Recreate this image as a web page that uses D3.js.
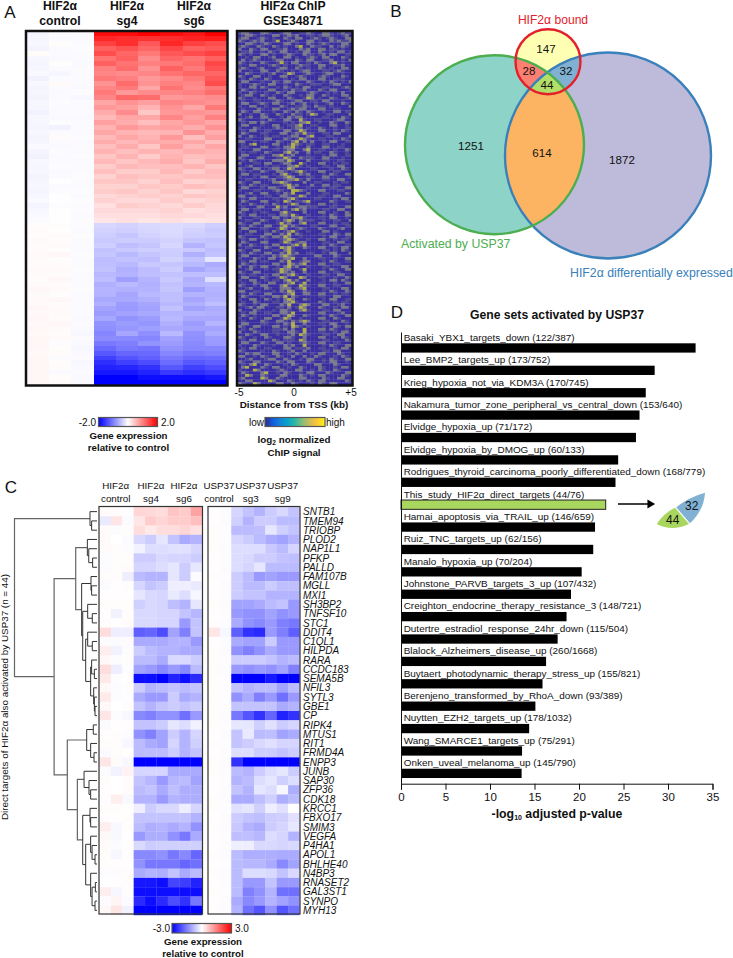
<!DOCTYPE html>
<html><head><meta charset="utf-8">
<script src="https://cdn.jsdelivr.net/npm/d3@7/dist/d3.min.js"></script>
<style>
html,body{margin:0;padding:0;background:#fff}
svg{display:block}
text{font-family:"Liberation Sans",Arial,sans-serif;fill:#111}
</style></head><body><div id="chart"></div>
<script>
// ---------- Panel A: expression, one row per gene group (hundredths of log2 ratio)
const panelAColumns = ["c1","c2","c3","sg4a","sg4b","sg4c","sg6a","sg6b","sg6c"];
const panelARows = [
[-8,-3,-4,190,190,195,190,185,195],
[-7,-4,-3,170,165,160,165,175,180],
[-6,2,-3,150,165,130,170,150,140],
[-9,-4,-2,125,135,120,145,125,130],
[3,-3,-4,140,120,105,130,140,150],
[-6,-5,-3,110,125,90,120,110,125],
[-8,2,-5,125,110,100,105,115,145],
[-7,-4,-3,100,115,85,125,105,135],
[-5,-7,-3,95,90,95,110,120,120],
[-10,-3,-4,105,100,80,90,105,130],
[-6,4,-3,85,115,85,100,95,140],
[-8,-3,-5,95,105,70,110,90,105],
[-7,-5,-2,105,80,90,95,100,115],
[-9,-4,-6,95,120,115,80,85,90],
[-6,-2,-3,70,85,75,95,90,85],
[-7,-4,-4,80,75,60,85,70,105],
[-10,-3,-3,65,90,45,80,85,80],
[-6,-5,-5,55,70,70,95,75,100],
[-7,-2,-3,75,65,50,70,80,70],
[-8,-10,-4,60,80,70,75,65,85],
[-6,-4,-3,70,60,55,60,85,65],
[-9,3,-2,55,70,60,80,50,75],
[-7,-3,-5,65,55,65,65,70,50],
[-5,-5,-3,50,65,45,75,55,70],
[-8,-2,-3,60,50,60,55,65,60],
[-10,-4,-2,45,60,40,60,50,55],
[-6,-3,-4,55,45,55,65,45,65],
[-7,-2,-3,40,55,50,50,60,45],
[-6,-5,-3,50,40,40,55,40,55],
[-9,-3,-2,35,50,45,45,50,50],
[-7,-1,-3,45,45,35,50,35,40],
[-6,-3,-4,35,35,45,40,50,45],
[-8,-2,-2,40,45,35,45,30,35],
[-6,-1,-3,30,35,40,35,45,40],
[-5,1,-2,35,30,30,40,30,35],
[-9,-2,-3,25,40,35,30,40,30],
[-6,-1,-2,30,30,30,35,25,30],
[-5,1,-3,25,25,25,30,30,25],
[-3,1,-2,20,25,20,25,20,22],
[2,2,-2,-32,-35,-30,-28,-30,-38],
[3,1,-3,-35,-38,-32,-28,-35,-42],
[2,3,-2,-38,-45,-35,-30,-38,-40],
[4,2,-3,-42,-40,-40,-35,-45,-48],
[3,4,-4,-38,-50,-45,-32,-60,-45],
[3,2,-3,-48,-42,-38,-38,-42,-52],
[5,6,-2,-45,-55,-45,-40,-62,-48],
[4,2,-3,-52,-48,-50,-35,-48,-20],
[3,3,-4,-50,-55,-42,-45,-55,-65],
[5,5,-2,-48,-62,-52,-40,-70,-58],
[4,3,-3,-55,-60,-50,-48,-50,-52],
[3,6,-4,-52,-75,-58,-42,-62,-25],
[5,3,-3,-62,-55,-62,-48,-58,-55],
[6,5,-2,-58,-62,-60,-45,-75,-60],
[4,2,-5,-60,-70,-55,-50,-60,-62],
[5,6,-3,-68,-68,-62,-50,-70,-58],
[4,3,-4,-62,-78,-70,-55,-62,-50],
[6,5,-3,-72,-80,-72,-48,-72,-65],
[5,4,-4,-78,-72,-68,-58,-60,-62],
[6,3,-5,-70,-85,-78,-55,-68,-68],
[5,6,-4,-85,-78,-82,-62,-78,-58],
[7,4,-5,-88,-82,-75,-68,-72,-72],
[5,3,-6,-95,-70,-88,-55,-85,-65],
[6,5,-4,-90,-92,-95,-72,-88,-78],
[7,-2,-5,-105,-100,-85,-78,-92,-80],
[6,2,-6,-118,-105,-110,-85,-95,-95],
[5,3,-5,-130,-120,-118,-95,-105,-100],
[7,-4,-4,-150,-135,-125,-105,-118,-115],
[6,2,-6,-165,-150,-140,-115,-130,-125],
[7,3,-5,-175,-170,-160,-130,-150,-140],
[6,-3,-4,-180,-180,-175,-155,-165,-155],
[7,2,-5,-195,-195,-190,-190,-190,-185],
[6,3,-5,-200,-200,-200,-200,-200,-200]
];
const panelATitles = [["HIF2α","control"],["HIF2α","sg4"],["HIF2α","sg6"]];

// ---------- Panel A: ChIP signal level (0 low - 4 high), one digit per bin, estimated texture
const chipRows = [
"122100221001220011210022101211","012210100220121200110122100120","122001210100210220012101210022","210121200130012100220100212112",
"002210121000220100210121000220","121002100210100230021100201210","200210220011200021200220110100","011200102102200102200210102201",
"210100220100121002110120220011","001022001200220100121022000210","020121000122000210220011200102","210100210013102200102100230100",
"100220001210100121100220011200","121001200012200210100210100220",
"200100220021001012200011012100","002100101200132001210012200100","210022001002200121000121000210","010210021000101022000220011100",
"022000100210220100210010210102","100121002200100210011100122000","100220210010210102200011000121","021010002200102112000210220001",
"100210010021022000121001010200","012200210100210010220021000220","210010002200021001320100210012","010011000121001220011022000100",
"022001210220012012001001200210","100220010002100112102110100002","010002100220012122000220011000","021022000100210210210010022011",
"200100210021002110132001100002","001200220001021220000011000210","210000102100220031001100012200","010220210000101022300100210021",
"022000100220011230011000220010","100021000121001220100210010011",
"010220011000220132000220010210","021000110002201213110011022000","200210010110012200230001100002","001100022000210132100110010210",
"220010110021002302020010220011","010230000220013210110011000100","011000220010223100200022001100","100022000110122002300110010021",
"010110021000231200201100210010","022000100223012000100010220011","210002200011320021110022000100","010210000222132000200011001100",
"200011022001220031000220010110","001200010110022310100011002200",
"210022001220132000011000100210","010100210022101231000220011000","022011000102310021200010210022","100010220011232000110022000001",
"001100001200122310200011002200","210022000223210002001100010110","010210110001231200020022011000","022000102210032000100010110022",
"100011000121003321000220001100","001200220010213000200011000021",
"220010011002210132000110022000","010220000110123100001100010220","021000220010320112300000210011","100210010210013200100220010000",
"010002200031200122111000110022","022011000220102312000011002200","210010110002310002000220010021","010220001102213100100010210022",
"200011000220102231000110220010","001100210010232021110010011002",
"210022000013120023000220010110","010210022002312100011000220011","022000110013200121000210001200","100220010210123100100022010000",
"001100022002130210000110021022","210000210221320010000010220011","010220010001232100100220010110","021000220001320122000011002200",
"200210010220012313000010210011","001100021003231002100220010220",
"210022000110231000000011010210","010210022002131200110010220002","022000100212321000002200021000","100021002201223002000110010022",
"010220110002130012200010210011","021010000220032123000220011000","200210220010231200100011000220","001200010113220013000010210022",
"210022000013212002000220011000","010110010220123100100011002200",
"022000210013200032000110010021","100220010110231200200010220210","010021002200123013000110010022","210010220002310032100220011000",
"001200021002220123000011000220","220011000102132002100010210021","010210022000123002200220010110","021000100221302100000110022000",
"100220021010232002100010220011","010021000110223100000210010110",
"210010220002130023200022001200","001202200011020132000210010220","200021000102210023100011022000","010220011002213000000220001200",
"021010000220132002100010210022","100210022001320010000220021000","010000210022102123200011000210","022000110010213002000110220010",
"210022000220103210100010021022","010210000111202003000220210010",
"200021000110022103000110010220","002100220010012032100011002200","210010021000221002000220010210","010220000210111032000011000021",
"022000210022010012100220011000","100021000100212003000010210022","010220011000220111200110010220","210000100210012002000011022000",
"002122000220010210010220002100","220010210021002002002100010210",
"001200012200210010220010210022","210022000021022000210010220010","010230021000102100002200021000","023000210220010021000210010220",
"100032000012100220010210021000","021000230010210010220002100022","003200210002200021010220000210","120000320021000022000021002200",
"002200003200021010210220000021","210032000022002100010210220000"
];

// ---------- Panel B: Venn counts
const vennSets = ["Activated by USP37","HIF2α differentially expressed","HIF2α bound"];
const vennCounts = [1251,1872,147,614,28,32,44];

// ---------- Panel C
const panelCColumnsLeft = ["c1","c2","c3","sg4a","sg4b","sg4c","sg6a","sg6b","sg6c"];
const panelCColumnsRight = ["c1","c2","sg3a","sg3b","sg3c","sg9a","sg9b","sg9c"];
const panelCTitles = [["HIF2α","control"],["HIF2α","sg4"],["HIF2α","sg6"],["USP37","control"],["USP37","sg3"],["USP37","sg9"]];
const genes = ["SNTB1","TMEM94","TRIOBP","PLOD2","NAP1L1","PFKP","PALLD","FAM107B","MGLL","MXI1","SH3BP2","TNFSF10","STC1","DDIT4","C1QL1","HILPDA","RARA","CCDC183","SEMA5B","NFIL3","SYTL3","GBE1","CP","RIPK4","MTUS1","RIT1","FRMD4A","ENPP3","JUNB","SAP30","ZFP36","CDK18","KRCC1","FBXO17","SMIM3","VEGFA","P4HA1","APOL1","BHLHE40","N4BP3","RNASET2","GAL3ST1","SYNPO","MYH13"];
const panelCLeft = [
[.05,.05,-.02,.5,.45,.4,.7,.6,1.1],[-.25,.3,-.05,.3,.6,.5,.6,.6,.75],[.05,-.03,.03,.4,.25,.4,.4,.5,.35],
[.05,0,-.05,-.45,-.6,-.3,-.7,-1,-.9],[.05,.03,-.03,-.15,-.4,-.4,-.35,-.35,-.5],[-.03,.03,.03,-.6,-.6,-.45,-.5,-.5,-.6],
[-.03,.03,.05,-.5,-.5,-.4,-.3,-.6,-.3],[.03,.03,-.2,-.8,-.9,-.9,-.3,-.6,-.05],[-.05,.02,.03,-.5,-.7,-.6,-.2,-.2,-.25],
[.02,.02,.02,-.3,-.45,-.5,-.25,-.4,-.1],[.03,.03,.03,-.55,-.45,-.5,-.75,-.9,-.3],[.02,-.15,.03,-.45,-.45,-.5,-.5,-.7,-.85],
[.03,.02,.05,-.45,-.45,-.5,-.5,-1.2,-.7],[.4,-.2,-.2,-1.9,-1.8,-2.1,-1.1,-1.5,-.7],[-.03,-.05,.05,-1,-1,-1,-.9,-.9,-1.2],
[.2,-.15,-.03,-.6,-.8,-.9,-.9,-1,-1],[.08,-.03,.03,-.8,-.8,-1,-.45,-.45,-.6],[.4,-.2,-.02,-1.1,-1.2,-1.4,-1.2,-1.4,-.8],
[.25,-.02,.02,-2.9,-2.9,-3,-2.6,-2.8,-2.5],[.08,-.03,.03,-.6,-.9,-.8,-.7,-.8,-.7],[.25,-.03,-.02,-1,-1.2,-1.2,-.6,-1,-.9],
[.08,0,.03,-.7,-.9,-.7,-.6,-.7,-.6],[.3,-.03,-.1,-1.4,-1.5,-1.3,-1.3,-1.7,-1.2],[-.05,.02,.02,-.7,-.7,-.6,-.3,-.4,-.15],
[.02,.04,-.03,-1.3,-1.5,-1.1,-.6,-.9,-.5],[.03,.03,-.1,-.8,-1,-1.1,-.5,-.9,-.55],[-.05,.03,.02,-.8,-.8,-.8,-.6,-.9,-.7],
[.3,.05,-.1,-3,-3,-3,-3,-3,-3],[-.03,-.15,.15,-.5,-.5,-.5,-1,-1,-1],[.04,0,.05,-.7,-.85,-1.2,-.85,-.8,-1.1],
[.02,0,.05,-.8,-.7,-1,-.75,-.95,-.95],[-.02,.2,-.08,-.9,-.9,-1.2,-.9,-.95,-.95],[.03,.03,.02,-.2,-.6,-.45,-.45,-.2,-.5],
[.02,.02,.03,-.7,-.7,-.7,-.7,-.7,-.9],[.2,-.08,.03,-.8,-.95,-.9,-1,-.9,-1.3],[.08,-.08,.02,-1.2,-.95,-.95,-1.3,-1.6,-1],
[.05,-.03,.03,-.45,-.6,-.55,-.55,-.55,-.55],[.03,-.1,.02,-1.4,-1.4,-1.3,-1.6,-1.4,-1.8],[.03,.02,.02,-1.3,-1.6,-1.6,-1.6,-1.8,-1.7],
[-.02,-.02,.03,-1,-.9,-.95,-.7,-1,-.8],[.02,.02,.03,-2.7,-2.7,-2.9,-2.2,-2.3,-2.6],[.2,-.1,.03,-2.9,-2.9,-2.9,-2.9,-2.8,-2.9],
[-.04,.12,-.05,-2.5,-2.8,-2.5,-2.1,-2.4,-1.6],[.08,.3,-.15,-3,-3,-3,-3,-3,-3]
];
const panelCRight = [
[.02,-.03,-.5,-.7,-.9,-.6,-.45,-.7],[.02,-.03,-.55,-.9,-.6,-.6,-.8,-.8],[.03,-.02,-.8,-.8,-.75,-.3,-.55,-.7],
[.03,-.02,-.5,-.6,-.8,-1,-1.1,-.9],[.03,-.03,-.4,-.4,-.4,-.65,-.8,-.5],[.02,-.03,-.4,-.45,-.6,-.6,-.7,-.75],
[.02,-.03,-.4,-.5,-.3,-.8,-.8,-.8],[.03,-.02,-.6,-.8,-1.2,-1.1,-1.2,-1.2],[.02,-.03,-.6,-.8,-.8,-.6,-.75,-.75],
[.02,-.03,-.6,-.7,-.7,-.9,-.9,-.9],[.03,-.03,-1.1,-1.1,-1,-.8,-.7,-1.2],[.02,-.02,-1.2,-1.3,-1.3,-1.1,-1.3,-1.2],
[.03,-.03,-1,-1.3,-1.4,-1.2,-1.5,-1.6],[.3,-.1,-1.9,-2.4,-2.5,-1.2,-1.5,-1.9],[.02,-.03,-1,-1.1,-1.1,-.6,-1.2,-1.2],
[.03,-.03,-1.3,-1.5,-1.3,-1,-1.2,-1.2],[.03,-.02,-.6,-.6,-.6,-.7,-.9,-.8],[.05,-.03,-1.2,-1.3,-1.2,-1.3,-1.1,-1.5],
[.03,-.02,-3,-3,-3,-2.7,-3,-3],[.03,-.03,-.7,-.9,-.8,-.8,-1.1,-.8],[.03,-.02,-1.3,-1,-1.5,-1.2,-1.7,-1.2],
[.03,-.02,-.7,-.7,-.7,-.7,-1,-.9],[.03,-.03,-1.6,-2,-2.4,-1.8,-2.6,-2.4],[.03,-.02,-.3,-.3,-.55,-.35,-.6,-.5],
[.02,-.03,-.7,-.25,-.8,-.75,-1.1,-1],[.03,-.02,-.7,-.6,-.45,-.35,-.5,-.5],[.02,-.03,-.4,-.4,-.6,-.6,-.7,-.6],
[.03,-.03,-2.4,-3,-3,-3,-3,-3],[.03,-.03,-.8,-.9,-.6,-.4,-.3,-.6],[.02,-.02,-.9,-.8,-.4,-.3,-.55,-.4],
[.02,-.03,-.7,-.9,-.3,-.4,-.1,-.95],[.03,-.03,-1,-1,-.75,-.55,-.95,-.8],[.03,-.02,-.35,-.3,-.55,-.2,-.35,0],
[.02,-.03,-.6,-.7,-.75,-.6,-.55,-.35],[.03,-.03,-.65,-.9,-1,-.6,-.5,-.3],[.02,-.02,-.75,-.75,-.85,-.4,-.5,-.9],
[.02,-.03,-.2,-.2,-.45,-.45,-.5,-.45],[.03,-.03,-.8,-.95,-.95,-.95,-1,-1],[.02,-.02,-.8,-.85,-.85,-1,-1.4,-1.1],
[.03,-.03,-.8,-.4,-.4,-.45,-.7,-.45],[.02,-.03,-.8,-1.2,-1.2,-.7,-1.2,-1.2],[.03,-.02,-.8,-1.5,-1.3,-.9,-1.7,-1.7],
[.02,-.03,-1,-1.4,-1.2,-.9,-1.1,-1.3],[.03,-.03,-.9,-1.7,-2,-1.3,-2,-1.7]
];
// dendrogram: [merge height, child, child]; leaves are gene names
const geneTree =
[1,
 [.085,"SNTB1",[.065,"TMEM94","TRIOBP"]],
 [.52,
  [.258,
   [.117,"PLOD2",[.10,"NAP1L1",[.053,"PFKP","PALLD"]]],
   [.186,
    [.073,"FAM107B",[.065,"MGLL","MXI1"]],
    [.173,
     [.113,"SH3BP2",[.057,"TNFSF10","STC1"]],
     [.137,
      [.113,"DDIT4",[.057,"C1QL1","HILPDA"]],
      [.077,
       [.065,"RARA",[.032,"CCDC183","SEMA5B"]],
       [.04,"NFIL3",[.032,"SYTL3",[.024,"GBE1","CP"]]]]]]]],
  [.36,
   [.125,[.045,"RIPK4","MTUS1"],[.077,"RIT1",[.036,"FRMD4A","ENPP3"]]],
   [.238,
    [.157,"JUNB",[.097,"SAP30",[.077,"ZFP36","CDK18"]]],
    [.173,
     [.085,"KRCC1",[.077,"FBXO17","SMIM3"]],
     [.137,
      [.077,"VEGFA",[.06,"P4HA1",[.024,"APOL1","BHLHE40"]]],
      [.077,"N4BP3",[.06,[.02,"RNASET2","GAL3ST1"],[.024,"SYNPO","MYH13"]]]]]]]]];

// ---------- Panel D
const setNames = ["Basaki_YBX1_targets_down","Lee_BMP2_targets_up","Krieg_hypoxia_not_via_KDM3A","Nakamura_tumor_zone_peripheral_vs_central_down","Elvidge_hypoxia_up","Elvidge_hypoxia_by_DMOG_up","Rodrigues_thyroid_carcinoma_poorly_differentiated_down","This_study_HIF2α_direct_targets","Hamai_apoptosis_via_TRAIL_up","Ruiz_TNC_targets_up","Manalo_hypoxia_up","Johnstone_PARVB_targets_3_up","Creighton_endocrine_therapy_resistance_3","Dutertre_estradiol_response_24hr_down","Blalock_Alzheimers_disease_up","Buytaert_photodynamic_therapy_stress_up","Berenjeno_transformed_by_RhoA_down","Nuytten_EZH2_targets_up","Wang_SMARCE1_targets_up","Onken_uveal_melanoma_up"];
const setCounts = ["122/387","173/752","170/745","153/640","71/172","60/133","168/779","44/76","146/659","62/156","70/204","107/432","148/721","115/504","260/1668","155/821","93/389","178/1032","75/291","145/790"];
const setLogP = [33.1,28.5,27.5,26.8,26.4,24.4,24.1,23.0,21.8,21.6,20.3,19.1,18.6,17.6,16.3,15.9,15.1,14.4,13.6,13.55];
const xTickValues = [0,5,10,15,20,25,30,35];

// ---------- drawing
const svg = d3.select("#chart").append("svg").attr("width",733).attr("height",958);
const defs = svg.append("defs");
function txt(g,x,y,s,o={}){
  const t=g.append("text").attr("x",x).attr("y",y).text(s)
    .attr("font-size",o.size||10).attr("text-anchor",o.anchor||"middle");
  if(o.bold)t.attr("font-weight","bold");
  if(o.italic)t.attr("font-style","italic");
  if(o.fill)t.style("fill",o.fill);
  return t;
}
const divA = d3.scaleLinear().domain([-2,0,2]).range(["#0000ff","#ffffff","#ff0000"]).clamp(true);
const divC = d3.scaleLinear().domain([-3,0,3]).range(["#0000ff","#ffffff","#ff0000"]).clamp(true);
function colorbar(id,g,x0,x1,y0,y1,stops){
  const lg=defs.append("linearGradient").attr("id",id);
  stops.forEach((c,i)=>lg.append("stop").attr("offset",i/(stops.length-1)).attr("stop-color",c));
  g.append("rect").attr("x",x0).attr("y",y0).attr("width",x1-x0).attr("height",y1-y0)
   .attr("fill",`url(#${id})`).attr("stroke","#555").attr("stroke-width",1.2);
}
// letters
[["A",10,18],["B",396,17],["C",11,493],["D",397,318]].forEach(d=>txt(svg,d[1],d[2],d[0],{size:17}));

// Panel A heatmap
const gA=svg.append("g");
const soft=defs.append("filter").attr("id","soft").attr("x","-2%").attr("y","-2%").attr("width","104%").attr("height","104%");
soft.append("feGaussianBlur").attr("stdDeviation","0.7 0.3");
const softA=defs.append("filter").attr("id","softA").attr("x","-2%").attr("y","-2%").attr("width","104%").attr("height","104%");
softA.append("feGaussianBlur").attr("stdDeviation","0.6 0.5");
const gAh=gA.append("g").attr("filter","url(#softA)");
const axX=d3.scaleBand().domain(panelAColumns).range([26.7,227.3]);
const axY=d3.scaleBand().domain(d3.range(panelARows.length)).range([31.5,385]);
panelARows.forEach((row,i)=>row.forEach((v,j)=>{
  gAh.append("rect").attr("x",axX(panelAColumns[j])).attr("y",axY(i))
    .attr("width",axX.bandwidth()+.3).attr("height",axY.bandwidth()+.3)
    .attr("fill",divA(v/100)).attr("shape-rendering","crispEdges");
}));
gA.append("rect").attr("x",26).attr("y",31).attr("width",201.5).attr("height",354.5).attr("fill","none").attr("stroke","#111").attr("stroke-width",2.5);
[[60,0],[127,1],[194,2]].forEach(d=>{
  txt(gA,d[0],10,panelATitles[d[1]][0],{size:12.2,bold:true});
  txt(gA,d[0],24.5,panelATitles[d[1]][1],{size:12.2,bold:true});
});
// ChIP heatmap
const chipColor=d3.scaleOrdinal().domain(["0","1","2","3","4"]).range(["#3a2d9f","#4f4a97","#78768a","#b0ae48","#dcd62a"]);
const cyY=d3.scaleBand().domain(d3.range(chipRows.length)).range([31.5,385]);
const cxX=d3.scaleBand().domain(d3.range(30)).range([237.5,352.5]);
const gChip=gA.append("g").attr("filter","url(#soft)");
chipRows.forEach((r,i)=>r.split("").forEach((c,j)=>{
  gChip.append("rect").attr("x",cxX(j)).attr("y",cyY(i)).attr("width",cxX.bandwidth()+.3).attr("height",cyY.bandwidth()+.3)
    .attr("fill",chipColor(c));
}));
gA.append("rect").attr("x",237).attr("y",31).attr("width",115.5).attr("height",354.5).attr("fill","none").attr("stroke","#111").attr("stroke-width",2.5);
txt(gA,293,10,"HIF2α ChIP",{size:12.2,bold:true});
txt(gA,293,24.5,"GSE34871",{size:12.2,bold:true});
[["-5",239],["0",294],["+5",351]].forEach(d=>txt(gA,d[1],396,d[0],{size:10}));
txt(gA,294,408,"Distance from TSS (kb)",{size:9.9,bold:true});
colorbar("cbA",gA,98.5,157.5,417.5,426.5,["#0000ff","#ffffff","#ff0000"]);
txt(gA,96,425.5,"-2.0",{anchor:"end"});txt(gA,161,425.5,"2.0",{anchor:"start"});
txt(gA,128.5,439,"Gene expression",{size:9.7,bold:true});
txt(gA,128.5,451,"relative to control",{size:9.7,bold:true});
colorbar("cbChip",gA,265,325,417.5,426.5,["#352a87","#0f5cdd","#1481d6","#06a4ca","#2eb7a4","#87bf77","#d1bb59","#fec832","#f9fb0e"]);
txt(gA,264,425.5,"low",{anchor:"end"});txt(gA,326,425.5,"high",{anchor:"start"});
const lg2=txt(gA,294,443,"log",{size:9.8,bold:true});
lg2.append("tspan").attr("font-size",6.5).attr("dy",2).text("2");
lg2.append("tspan").attr("dy",-2).text(" normalized");
txt(gA,294,455.5,"ChIP signal",{size:9.8,bold:true});

// Panel B Venn
const gB=svg.append("g");
const circ=[{c:[494.5,144.7],r:89.5,s:"#4cae4f"},{c:[608,155.5],r:103,s:"#3a80ba"},{c:[548,61.7],r:32.5,s:"#e4202a"}];
circ.forEach((d,i)=>defs.append("clipPath").attr("id","vc"+i).append("circle").attr("cx",d.c[0]).attr("cy",d.c[1]).attr("r",d.r));
function vfill(i,col,clip){
  let g=gB;
  (clip||[]).forEach(k=>{g=g.append("g").attr("clip-path",`url(#vc${k})`);});
  g.append("circle").attr("cx",circ[i].c[0]).attr("cy",circ[i].c[1]).attr("r",circ[i].r).attr("fill",col);
}
const set3=d3.schemeSet3;
vfill(0,set3[0]);vfill(1,set3[2]);vfill(0,set3[5],[1]);
vfill(2,set3[1]);vfill(2,set3[3],[0]);vfill(2,set3[4],[1]);vfill(2,set3[6],[0,1]);
[1,0,2].forEach(i=>gB.append("circle").attr("cx",circ[i].c[0]).attr("cy",circ[i].c[1]).attr("r",circ[i].r).attr("fill","none").attr("stroke",circ[i].s).attr("stroke-width",2.4));
[[471,150],[622,163.5],[546,53],[542,156.5],[529,75],[566,75],[547,89]].forEach((p,i)=>txt(gB,p[0],p[1],vennCounts[i],{size:11.6}));
txt(gB,401,248,vennSets[0],{size:12.3,anchor:"start",fill:"#4cae4f"});
txt(gB,570,277,vennSets[1],{size:12.3,anchor:"start",fill:"#3a80ba"});
txt(gB,553,24,vennSets[2],{size:12.1,fill:"#e4202a"});

// Panel C
const gC=svg.append("g");
const cY=d3.scaleBand().domain(genes).range([507,915]);
const cXL=d3.scaleBand().domain(panelCColumnsLeft).range([99.5,202]);
const cXR=d3.scaleBand().domain(panelCColumnsRight).range([208.5,299.5]);
const gCh=gC.append("g").attr("filter","url(#softA)");
genes.forEach((g,i)=>{
  panelCLeft[i].forEach((v,j)=>gCh.append("rect").attr("x",cXL(panelCColumnsLeft[j])).attr("y",cY(g)).attr("width",cXL.bandwidth()+.2).attr("height",cY.bandwidth()+.2).attr("fill",divC(v)));
  panelCRight[i].forEach((v,j)=>gCh.append("rect").attr("x",cXR(panelCColumnsRight[j])).attr("y",cY(g)).attr("width",cXR.bandwidth()+.2).attr("height",cY.bandwidth()+.2).attr("fill",divC(v)));
  txt(gC,303,cY(g)+cY.bandwidth()/2+3.6,g,{size:10,anchor:"start",italic:true});
});
[[99,202.5],[208,300]].forEach(d=>gC.append("rect").attr("x",d[0]).attr("y",506.5).attr("width",d[1]-d[0]).attr("height",407.5).attr("fill","none").attr("stroke","#333").attr("stroke-width",1.2));
[115.7,151,184,219,250.7,282.7].forEach((x,i)=>{
  txt(gC,x,489,panelCTitles[i][0],{size:9.8});
  txt(gC,x,501.5,panelCTitles[i][1],{size:9.8});
});
txt(gC,0,0,"Direct targets of HIF2α also activated by USP37 (n = 44)",{size:9.85}).attr("transform","translate(7.5,697) rotate(-90)");
// dendrogram
const root=d3.hierarchy(geneTree,d=>Array.isArray(d)?d.slice(1):null);
const dx=d3.scaleLinear().domain([0,1]).range([97,14.5]);
root.eachAfter(n=>{
  if(!n.children){n.py=cY(n.data)+cY.bandwidth()/2;n.px=dx(0);}
  else{n.py=d3.mean(n.children,c=>c.py);n.px=dx(n.data[0]);}
});
root.descendants().filter(n=>n.children).forEach(n=>{
  const [a,b]=n.children;
  const p=d3.path();
  p.moveTo(a.px,a.py);p.lineTo(n.px,a.py);p.lineTo(n.px,b.py);p.lineTo(b.px,b.py);
  gC.append("path").attr("d",p.toString()).attr("fill","none")
    .attr("stroke",n.data[0]>.2?"#666":"#333").attr("stroke-width",n.data[0]>.2?1.2:1);
});
colorbar("cbC",gC,172,231.5,923.5,933,["#0000ff","#ffffff","#ff0000"]);
txt(gC,170,932,"-3.0",{anchor:"end"});txt(gC,235,932,"3.0",{anchor:"start"});
txt(gC,203,945,"Gene expression",{size:9.7,bold:true});
txt(gC,203,957,"relative to control",{size:9.7,bold:true});

// Panel D
const gD=svg.append("g");
const x=d3.scaleLinear().domain([0,35]).range([401,712.5]);
const y=d3.scaleBand().domain(setNames).range([332.1,779.9]);
const axisY=783.7;
txt(gD,557,319,"Gene sets activated by USP37",{size:12.2,bold:true});
setNames.forEach((n,i)=>{
  const hl=n.startsWith("This_study");
  gD.append("rect").attr("x",x(0)).attr("y",y(n)+11.2).attr("width",x(setLogP[i])-x(0)).attr("height",9.3)
    .attr("fill",hl?"#a9d65e":"#000").attr("stroke",hl?"#222":"none").attr("stroke-width",hl?1:0);
  txt(gD,403.7,y(n)+8.7,`${n} (${setCounts[i]})`,{size:9.93,anchor:"start"});
});
const ax=d3.axisBottom(x).tickValues(xTickValues).tickSize(6).tickPadding(3);
const gx=gD.append("g").attr("transform",`translate(0,${axisY})`).call(ax);
gx.selectAll("text").attr("font-size",11.5).style("font-family",'"Liberation Sans"').style("fill","#111");
gx.selectAll("line,path").attr("stroke","#111").attr("stroke-width",1);
gD.append("g").attr("transform",`translate(${x(0)},0)`).call(d3.axisLeft(d3.scaleLinear().range([332,axisY])).tickValues([]).tickSize(0))
  .select("path").attr("stroke","#111").attr("stroke-width",1);
const xt=txt(gD,557,818,"-log",{size:12.3,bold:true});
xt.append("tspan").attr("font-size",7).attr("dy",2).text("10");
xt.append("tspan").attr("dy",-2).text(" adjusted p-value");
// arrow and wedge
const ap=d3.path();ap.moveTo(618,504);ap.lineTo(648,504);
gD.append("path").attr("d",ap.toString()).attr("stroke","#000").attr("stroke-width",1.5);
gD.append("path").attr("d",d3.symbol(d3.symbolTriangle,34)()).attr("transform","translate(650,504) rotate(90)").attr("fill","#000");
const w1=d3.path();w1.moveTo(676.2,507.3);w1.quadraticCurveTo(689,497,705,492.7);w1.quadraticCurveTo(704,510,690,523.3);w1.closePath();
gD.append("path").attr("d",w1.toString()).attr("fill","#80b1d3");
const w2=d3.path();w2.moveTo(656.7,524);w2.quadraticCurveTo(664,513,675,507.7);w2.lineTo(689,524);w2.quadraticCurveTo(672,532,656.7,524);w2.closePath();
gD.append("path").attr("d",w2.toString()).attr("fill","#a9d65e");
txt(gD,691.7,510,vennCounts[5],{size:12});
txt(gD,672.7,523.5,vennCounts[6],{size:12});
</script></body></html>
